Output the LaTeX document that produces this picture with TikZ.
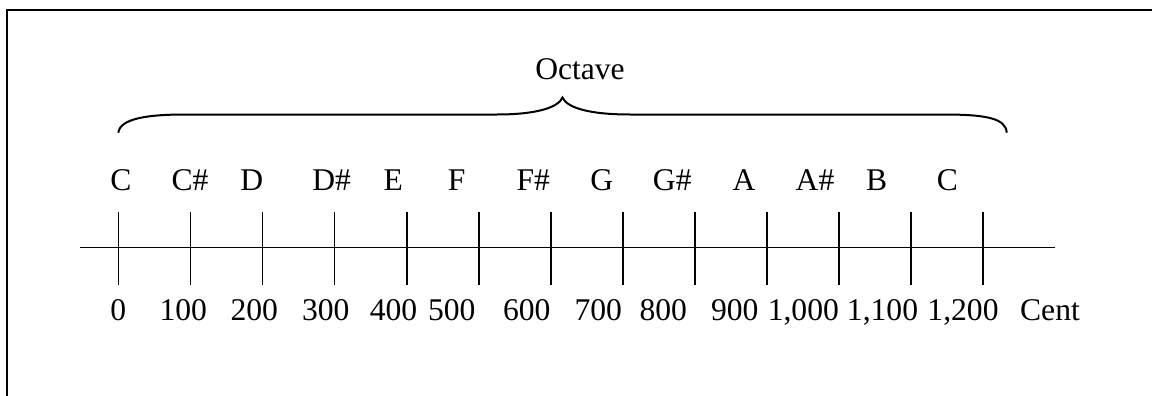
\documentclass[tikz,border=0pt]{standalone}
\usepackage{fontspec}
\setmainfont{Liberation Serif}
\begin{document}
\begin{tikzpicture}[x=0.5pt,y=-0.5pt,
  lbl/.style={anchor=base,inner sep=0pt,font=\fontsize{15.8}{18}\selectfont},
  axisline/.style={line width=0.9pt},
  tickline/.style={line width=0.8pt},
  frameline/.style={line width=1.3pt},
  braceline/.style={line width=1pt}]
\useasboundingbox (0,0) rectangle (1152,396);
% open frame (top and left edges)
\coordinate (fbl) at (7,396);
\coordinate (ftl) at (7,10);
\coordinate (ftr) at (1152,10);
\draw[frameline] (fbl) -- (ftl) -- (ftr);
% axis
\coordinate (axl) at (80,247.5);
\coordinate (axr) at (1055,247.5);
\draw[axisline] (axl) -- (axr);
% ticks every 100 cents
\foreach \i in {0,...,12}{
  \coordinate (t\i) at ({118.5+72.05*\i},212);
  \coordinate (b\i) at ({118.5+72.05*\i},285);
  \draw[tickline] (t\i) -- (b\i);
}
% note names
\foreach \n/\x/\t in {n0/121/C, n1/190/C\#, n2/251.7/D, n3/331.7/D\#, n4/393.3/E,
  n5/456.7/F, n6/533.3/F\#, n7/601.7/G, n8/672.3/G\#, n9/744/A, n10/815/A\#,
  n11/876.7/B, n12/947.3/C}
  \node[lbl] (\n) at (\x,190.7) {\t};
% cent values
\foreach \n/\x/\t in {c0/118.3/0, c1/183.3/100, c2/254.3/200, c3/325.7/300,
  c4/393.5/400, c5/451.7/500, c6/526.7/600, c7/598.3/700, c8/663.3/800,
  c9/734.7/900, c10/803.3/{1,000}, c11/882.5/{1,100}, c12/963/{1,200}}
  \node[lbl] (\n) at (\x,320.7) {\t};
\node[lbl] (cent) at (1050,320.7) {Cent};
% octave brace
\draw[braceline] (118.3,132.7) .. controls (120,118) and (150,114.5) .. (185,114.5)
  -- (497,114.5) .. controls (535,114.5) and (558,108) .. (562.5,97.5)
  .. controls (567,108) and (590,114.5) .. (630,114.5)
  -- (943,114.5) .. controls (985,114.5) and (1006,118) .. (1006.7,132.7);
\node[lbl] (octave) at (580,79) {Octave};
\end{tikzpicture}
\end{document}
